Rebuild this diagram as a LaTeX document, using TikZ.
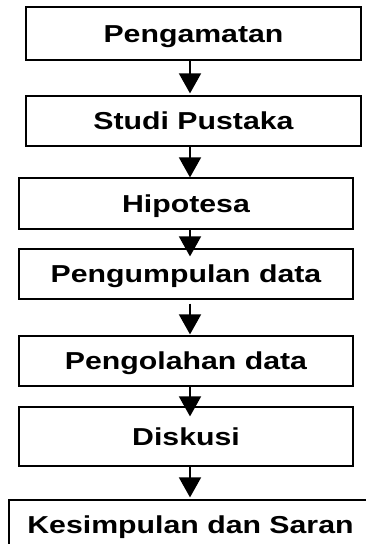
\documentclass[tikz,border=0pt]{standalone}
\usepackage{fontspec}
\setmainfont{Liberation Sans}
\usetikzlibrary{arrows.meta}
\newcommand{\widetext}[1]{\scalebox{1.235}[1]{\bfseries #1}}
\tikzset{
  flowbox/.style={draw=black, line width=1.2pt, rectangle, inner sep=0pt,
    text height=17.5pt, text depth=0pt, font=\fontsize{24.5pt}{28pt}\selectfont},
  flowarrow/.style={draw=black, line width=1.6pt,
    -{Triangle[width=22pt,length=20pt]}},
}
\begin{document}
\begin{tikzpicture}[x=1pt,y=-1pt]
\useasboundingbox (0,0) rectangle (366,544);
\clip (0,0) rectangle (366,544);
\fill[white] (0,0) rectangle (366,544);
\coordinate (ax) at (190,0);
\node[flowbox, minimum width=335pt, minimum height=53pt] (b1) at (193.5,33.5) {\widetext{Pengamatan}};
\node[flowbox, minimum width=335pt, minimum height=50pt] (b2) at (193.5,121) {\widetext{Studi Pustaka}};
\node[flowbox, minimum width=334pt, minimum height=51pt] (b3) at (186,203.5) {\widetext{Hipotesa}};
\node[flowbox, minimum width=334pt, minimum height=50pt] (b4) at (186,274) {\widetext{Pengumpulan data}};
\node[flowbox, minimum width=334pt, minimum height=50pt] (b5) at (186,361) {\widetext{Pengolahan data}};
\node[flowbox, minimum width=334pt, minimum height=59pt] (b6) at (186,436.5) {\widetext{Diskusi}};
\node[flowbox, minimum width=363pt, minimum height=49pt] (b7) at (190.5,524.5) {\widetext{Kesimpulan dan Saran}};
\draw[flowarrow, shorten >=2pt] (b1.south -| ax) -- (b2.north -| ax);
\draw[flowarrow] (b2.south -| ax) -- (b3.north -| ax);
\draw[flowarrow, shorten >=-8pt] (b3.south -| ax) -- (b4.north -| ax);
\draw[flowarrow, shorten <=4pt, shorten >=1pt] (b4.south -| ax) -- (b5.north -| ax);
\draw[flowarrow, shorten >=-10pt] (b5.south -| ax) -- (b6.north -| ax);
\draw[flowarrow, shorten >=2pt] (b6.south -| ax) -- (b7.north -| ax);
\end{tikzpicture}
\end{document}
